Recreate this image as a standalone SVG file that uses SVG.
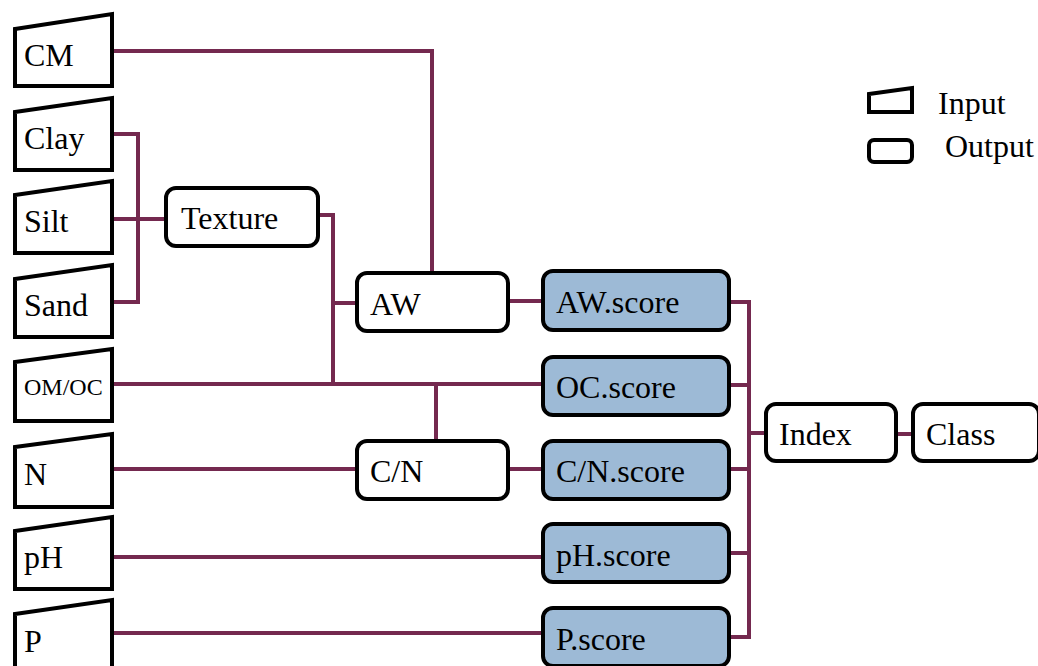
<svg xmlns="http://www.w3.org/2000/svg" width="1038" height="666" viewBox="0 0 1038 666">
<style>
.inp{fill:#fff;stroke:#000;stroke-width:4;stroke-linejoin:miter}
.box{fill:#fff;stroke:#000;stroke-width:4}
.score{fill:#9dbad6;stroke:#000;stroke-width:4}
text{font-family:'Liberation Serif','Times New Roman',serif;font-size:32px;fill:#000}
.sm{font-size:24px}
#connectors path{fill:none;stroke:#74294f;stroke-width:4}
</style>
<rect width="1038" height="666" fill="#fff"/>
<g id="connectors">
<path d="M114 51H432V272"/>
<path d="M114 134H138V302H114"/>
<path d="M114 219H165"/>
<path d="M318 215H333V384"/>
<path d="M333 303H357"/>
<path d="M114 384H542"/>
<path d="M436 384V441"/>
<path d="M114 469H357"/>
<path d="M509 301H542"/>
<path d="M509 469H542"/>
<path d="M114 557H542"/>
<path d="M114 633H542"/>
<path d="M730 302H749V637H730"/>
<path d="M730 385H749"/>
<path d="M730 469H749"/>
<path d="M730 553H749"/>
<path d="M749 433H765"/>
<path d="M896 434H912"/>
</g>
<g id="n-cm"><path class="inp" d="M15 29L112 14V86H15Z"/><text x="24" y="66">CM</text></g>
<g id="n-clay"><path class="inp" d="M15 112L112 98V170H15Z"/><text x="24" y="149">Clay</text></g>
<g id="n-silt"><path class="inp" d="M15 195L112 181V253H15Z"/><text x="24" y="232">Silt</text></g>
<g id="n-sand"><path class="inp" d="M15 279L112 265V337H15Z"/><text x="24" y="316">Sand</text></g>
<g id="n-omoc"><path class="inp" d="M15 362L112 349V421H15Z"/><text class="sm" x="24" y="395">OM/OC</text></g>
<g id="n-n"><path class="inp" d="M15 447L112 434V507H15Z"/><text x="24" y="485">N</text></g>
<g id="n-ph"><path class="inp" d="M15 531L112 517V589H15Z"/><text x="24" y="568">pH</text></g>
<g id="n-p"><path class="inp" d="M15 614L112 600V672H15Z"/><text x="24" y="652">P</text></g>
<g id="n-texture"><rect class="box" x="166" y="188" width="152" height="58" rx="10"/><text x="181" y="229">Texture</text></g>
<g id="n-aw"><rect class="box" x="357" y="273" width="151" height="58" rx="10"/><text x="370" y="315">AW</text></g>
<g id="n-cn"><rect class="box" x="357" y="441" width="151" height="58" rx="10"/><text x="370" y="482">C/N</text></g>
<g id="n-awscore"><rect class="score" x="543" y="271" width="186" height="59" rx="10"/><text x="556" y="313">AW.score</text></g>
<g id="n-ocscore"><rect class="score" x="543" y="357" width="186" height="58" rx="10"/><text x="556" y="398">OC.score</text></g>
<g id="n-cnscore"><rect class="score" x="543" y="441" width="186" height="58" rx="10"/><text x="556" y="482">C/N.score</text></g>
<g id="n-phscore"><rect class="score" x="543" y="524" width="186" height="58" rx="10"/><text x="556" y="566">pH.score</text></g>
<g id="n-pscore"><rect class="score" x="543" y="608" width="186" height="58" rx="10"/><text x="556" y="650">P.score</text></g>
<g id="n-index"><rect class="box" x="766" y="404" width="130" height="57" rx="10"/><text x="779" y="445">Index</text></g>
<g id="n-class"><rect class="box" x="913" y="404" width="126" height="57" rx="10"/><text x="926" y="445">Class</text></g>
<g id="legend">
<path class="inp" d="M869 94L912 88V112H869Z"/>
<text x="938" y="114">Input</text>
<rect class="box" x="869" y="140" width="43" height="22" rx="5"/>
<text x="945" y="157">Output</text>
</g>
</svg>
